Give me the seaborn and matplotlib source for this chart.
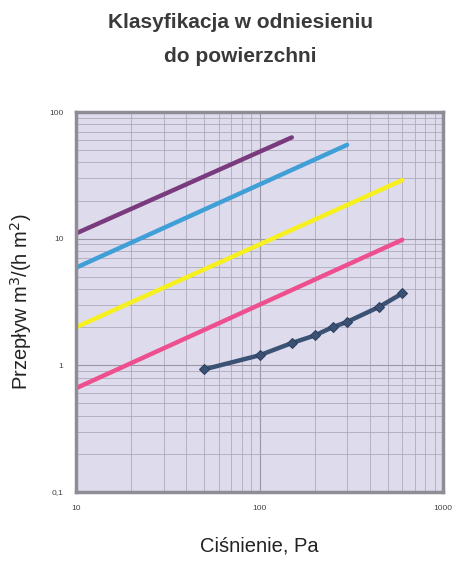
import numpy as np
import pandas as pd
import matplotlib
matplotlib.use('Agg')
import matplotlib.pyplot as plt
from matplotlib.ticker import LogLocator, FixedLocator, NullFormatter
import seaborn as sns

# dane (ciśnienie Pa -> przepływ m3/(h m2))
pressure_purple = [10, 150]
flow_purple = [11, 63]
pressure_blue = [10, 300]
flow_blue = [5.9, 55]
pressure_yellow = [10, 600]
flow_yellow = [2.0, 29]
pressure_pink = [10, 600]
flow_pink = [0.66, 9.8]
pressure_meas = [50, 100, 150, 200, 250, 300, 450, 600]
flow_meas = [0.93, 1.2, 1.5, 1.72, 2.0, 2.2, 2.9, 3.7]

sns.set_style("white")
plt.rcParams['font.family'] = ['Liberation Sans', 'DejaVu Sans']

fig = plt.figure(figsize=(4.69, 5.70), dpi=100)
ax = fig.add_axes([76 / 469, 1 - 492 / 570, (443 - 76) / 469, (492 - 112) / 570])
ax.set_facecolor("#dedbec")

sns.lineplot(x=pressure_purple, y=flow_purple, ax=ax, color="#7a3a7e", lw=3.2)
sns.lineplot(x=pressure_blue, y=flow_blue, ax=ax, color="#3f9fd6", lw=3.2)
sns.lineplot(x=pressure_yellow, y=flow_yellow, ax=ax, color="#f5f01e", lw=3.2)
sns.lineplot(x=pressure_pink, y=flow_pink, ax=ax, color="#ee4f8e", lw=3.2)
sns.lineplot(x=pressure_meas, y=flow_meas, ax=ax, color="#3b5275", lw=3.2,
             marker="D", markersize=5.5, markeredgecolor="#2d4060")

ax.set_xscale("log")
ax.set_yscale("log")
ax.set_xlim(10, 1000)
ax.set_ylim(0.1, 100)

ax.xaxis.set_major_locator(FixedLocator([10, 100, 1000]))
ax.yaxis.set_major_locator(FixedLocator([0.1, 1, 10, 100]))
ax.xaxis.set_minor_locator(LogLocator(base=10, subs=np.arange(2, 10)))
ax.yaxis.set_minor_locator(LogLocator(base=10, subs=np.arange(2, 10)))
ax.xaxis.set_minor_formatter(NullFormatter())
ax.yaxis.set_minor_formatter(NullFormatter())
ax.set_xticklabels(["10", "100", "1000"], fontsize=6, color="#444444")
ax.set_yticklabels(["0,1", "1", "10", "100"], fontsize=6, color="#444444")
ax.tick_params(which="both", length=0, pad=9)

ax.grid(which="major", color="#9a96a6", lw=0.8)
ax.grid(which="minor", color="#aeaabb", lw=0.6)
for s in ax.spines.values():
    s.set_color("#8f8c96")
    s.set_linewidth(2.5)

ax.set_xlabel("Ciśnienie, Pa", fontsize=14.5, color="#222222", labelpad=18)
ax.set_ylabel("Przepływ m$^3$/(h m$^2$)", fontsize=14.5, color="#222222", labelpad=11)

fig.text(0.512, 0.978, "Klasyfikacja w odniesieniu\ndo powierzchni", ha="center", va="top",
         fontsize=15, fontweight="bold", color="#3a3a3a", linespacing=2.0)

fig.savefig("out.png", dpi=100)
